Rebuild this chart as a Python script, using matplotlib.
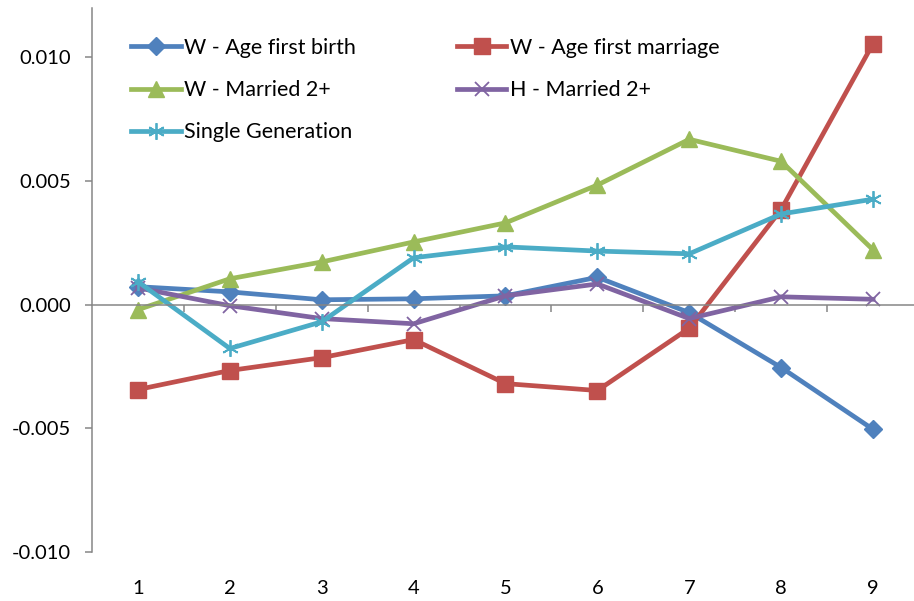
import matplotlib.pyplot as plt
from matplotlib.ticker import FixedLocator, FormatStrFormatter

plt.rcParams['font.family'] = ['Lato', 'DejaVu Sans']

x = [1, 2, 3, 4, 5, 6, 7, 8, 9]
age_birth = [0.00073, 0.00052, 0.00020, 0.00024, 0.00036, 0.00111, -0.00032, -0.00254, -0.00504]
age_marriage = [-0.00343, -0.00266, -0.00214, -0.00141, -0.00319, -0.00347, -0.00095, 0.00385, 0.01056]
w_married = [-0.00020, 0.00105, 0.00173, 0.00254, 0.00331, 0.00484, 0.00669, 0.00580, 0.00222]
h_married = [0.00068, -0.00004, -0.00056, -0.00077, 0.00036, 0.00084, -0.00056, 0.00032, 0.00022]
single_gen = [0.00093, -0.00177, -0.00069, 0.00190, 0.00234, 0.00217, 0.00206, 0.00367, 0.00427]

gray = '#868686'

fig = plt.figure(figsize=(9.14, 6.01), dpi=100)
ax = fig.add_axes([92/914, 49/601, 827/914, 544/601])

ax.plot(x, age_birth, color='#4F81BD', lw=3.4, marker='D', ms=9.5, label='W - Age first birth')
ax.plot(x, age_marriage, color='#C0504D', lw=3.4, marker='s', ms=11, label='W - Age first marriage')
ax.plot(x, w_married, color='#9BBB59', lw=3.4, marker='^', ms=11.5, label='W - Married 2+')
ax.plot(x, h_married, color='#8064A2', lw=3.4, marker='x', ms=10, mew=1.3, label='H - Married 2+')
ax.plot(x, single_gen, color='#4BACC6', lw=3.4, marker=(6, 2, 0), ms=12, mew=1.3, label='Single Generation')

ax.set_xlim(0.5, 9.5)
ax.set_ylim(-0.010, 0.012)

for s in ['top', 'right']:
    ax.spines[s].set_visible(False)
ax.spines['left'].set_color(gray)
ax.spines['left'].set_linewidth(1.1)
ax.spines['bottom'].set_position(('data', 0))
ax.spines['bottom'].set_color(gray)
ax.spines['bottom'].set_linewidth(1.1)

ax.set_yticks([-0.010, -0.005, 0.000, 0.005, 0.010])
ax.yaxis.set_major_formatter(FormatStrFormatter('%.3f'))
ax.tick_params(axis='y', direction='out', length=5, width=1.1, color=gray, labelsize=14.5, pad=10)

ax.xaxis.set_major_locator(FixedLocator([1.5, 2.5, 3.5, 4.5, 5.5, 6.5, 7.5, 8.5]))
ax.tick_params(axis='x', direction='out', length=5, width=1.1, color=gray, labelbottom=False)

sec = ax.secondary_xaxis('bottom')
sec.set_xticks(x)
sec.set_xticklabels([str(i) for i in x])
sec.spines['bottom'].set_visible(False)
sec.tick_params(length=0, labelsize=14.5, pad=20)

# Excel fills the legend row by row
handles, labels = ax.get_legend_handles_labels()
order = [0, 2, 4, 1, 3]
ax.legend([handles[i] for i in order], [labels[i] for i in order], ncol=2,
          loc='upper left', frameon=False,
          bbox_to_anchor=(131/914, 1 - 38/601), bbox_transform=fig.transFigure,
          fontsize=15.5, handlelength=2.3, handletextpad=0.15,
          labelspacing=1.03, columnspacing=4.7, borderpad=0, borderaxespad=0)

fig.savefig('out.png', dpi=100)
